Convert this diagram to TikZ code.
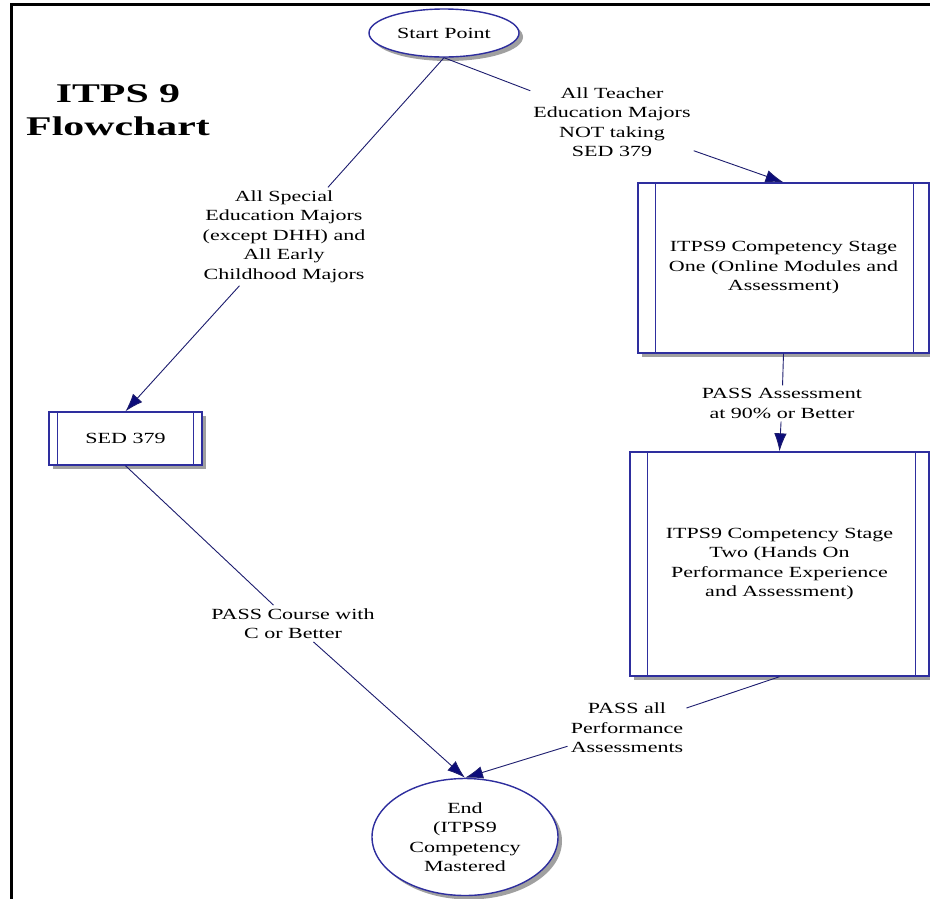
\documentclass[tikz,border=0pt]{standalone}
\usepackage{fontspec}
\setmainfont{Liberation Serif}[FakeStretch=1.42]
\newfontfamily\titlefont{Liberation Serif}[FakeStretch=1.55]
\usetikzlibrary{arrows.meta,shapes.geometric,shadows}
\definecolor{boxblue}{HTML}{2E2E9E}
\definecolor{linenavy}{HTML}{1C1C6E}
\definecolor{tipnavy}{HTML}{0C0C7A}
\definecolor{shadowgray}{HTML}{A0A0A0}
\tikzset{
  txt/.style={font=\fontsize{15.5}{19.5}\selectfont, align=center, text=black},
  lbl/.style={txt, inner sep=3pt},
  shad/.style={drop shadow={shadow xshift=4pt, shadow yshift=-4pt, fill=shadowgray, opacity=1}},
  procbox/.style={txt, rectangle, draw=boxblue, line width=1.4pt, fill=white, shad, inner sep=0pt},
  oval/.style={txt, ellipse, draw=boxblue, line width=1.4pt, fill=white, shad, inner sep=0pt},
  sideline/.style={draw=boxblue, line width=1.4pt},
  edge/.style={draw=linenavy, line width=0.9pt},
  arr/.style={-{Latex[length=18pt,width=12.5pt,fill=tipnavy]}},
  frameline/.style={draw=black, line width=2.7pt},
}
\begin{document}
\begin{tikzpicture}[x=1pt,y=-1pt]
\useasboundingbox (0,0) rectangle (930,898);
\clip (0,0) rectangle (930,898);
\fill[white] (0,0) rectangle (930,898);
% frame
\coordinate (fTL) at (11.5,4.5);
\coordinate (fTR) at (932,4.5);
\coordinate (fBL) at (11.5,900);
\draw[frameline] (fTR) -- (fTL) -- (fBL);

% title
\node[align=center, font=\titlefont\bfseries\fontsize{27}{33}\selectfont] (title) at (118,110) {ITPS 9\\Flowchart};

% nodes
\node[oval, minimum width=150, minimum height=48] (start) at (444,33) {Start Point};
\node[procbox, minimum width=291, minimum height=170] (s1) at (783.5,268) {ITPS9 Competency Stage\\One (Online Modules and\\Assessment)};
\node[procbox, minimum width=299, minimum height=224] (s2) at (779.5,564) {ITPS9 Competency Stage\\Two (Hands On\\Performance Experience\\and Assessment)};
\node[procbox, minimum width=153, minimum height=53] (sed) at (125.5,438.5) {SED 379};
\node[oval, minimum width=186, minimum height=117] (endn) at (465,837) {End\\(ITPS9\\Competency\\Mastered};

% side lines of process boxes
\draw[sideline] ([xshift=18]s1.north west) -- ([xshift=18]s1.south west);
\draw[sideline] ([xshift=-16]s1.north east) -- ([xshift=-16]s1.south east);
\draw[sideline] ([xshift=18]s2.north west) -- ([xshift=18]s2.south west);
\draw[sideline] ([xshift=-14]s2.north east) -- ([xshift=-14]s2.south east);
\draw[sideline] ([xshift=9]sed.north west) -- ([xshift=9]sed.south west);
\draw[sideline] ([xshift=-9]sed.north east) -- ([xshift=-9]sed.south east);

% labels
\node[lbl] (lblL) at (284,236.5) {All Special\\Education Majors\\(except DHH) and\\All Early\\Childhood Majors};
\node[lbl] (lblT) at (612,122) {All Teacher\\Education Majors\\NOT taking\\SED 379};
\node[lbl] (lblA) at (782,403.5) {PASS Assessment\\at 90\% or Better};
\node[lbl] (lblC) at (293,623.5) {PASS Course with\\C or Better};
\node[lbl] (lblP) at (627,728) {PASS all\\Performance\\Assessments};

% connectors
\draw[edge] (start.south) -- (lblL);
\draw[edge,arr] (lblL) -- (sed.north);
\draw[edge] (start.south) -- (lblT);
\draw[edge,arr] (lblT) -- (s1.north);
\draw[edge] (s1.south) -- (lblA);
\draw[edge,arr] (lblA) -- (s2.north);
\draw[edge] (sed.south) -- (lblC);
\draw[edge,arr] (lblC) -- (endn.north);
\draw[edge] (s2.south) -- (lblP);
\draw[edge,arr] (lblP) -- (endn.north);
\end{tikzpicture}
\end{document}
